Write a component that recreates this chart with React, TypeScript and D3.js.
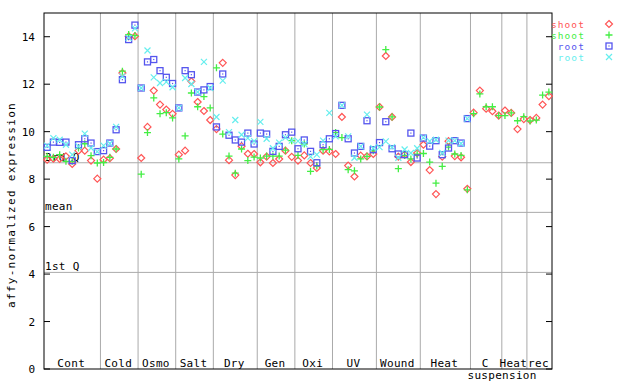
import React from "react";
import * as d3 from "d3";

const shoot1: (number | null)[] = [
  8.82, 8.86, 8.85, 8.96, 8.64, 9.2, 9.2, 8.78, 8.02,
  8.82, 8.88, 9.27, 12.47, 14.02, 14.02,
  8.89, 10.2, 11.73, 11.14, 10.93, 10.75,
  9.03, 9.2, 12.12, 11.25, 10.87, 10.49,
  10.11, 12.9, 8.8, 8.17, 9.39, 9.07, 9.06,
  8.71, 8.95, 8.68, 8.85, 9.2, 8.94,
  8.78, 9.0, 8.68, 8.47, 9.2, 9.17,
  9.06, 10.62, 8.57, 8.11, 8.99, 8.96, 9.06,
  11.04, 13.19, 10.62, 8.95, 9.03, 8.72, 9.1,
  9.45, 8.38, 7.37, 8.95, 9.6, 8.97, 8.92, 7.59,
  10.8, 11.73, 10.97, 10.86, 10.68,
  10.89, 10.79, 10.11, 10.53,
  10.49, 10.58, 11.14, 11.5,
];
const shoot2: (number | null)[] = [
  8.96, 8.92, 9.03, 8.75, 8.75, 9.31, 9.49, 8.99, 8.68,
  8.7, 8.92, 9.27, 12.55, 14.09, 14.05,
  8.21, 9.96, 11.42, 10.76, 10.8, 10.58,
  8.85, 9.82, 11.63, 11.05, 11.48, 11.0,
  12.69, 9.9, 8.97, 8.25, 9.27, 8.78, 8.93,
  8.89, 8.97, 8.97, 8.97, 9.22, 9.62,
  9.0, 9.48, 8.33, 8.55, 9.24, 9.25,
  9.96, 9.75, 8.4, 8.35, 8.85, 8.96, 9.2,
  11.04, 13.46, 10.62, 8.44, 9.0, 8.85, 9.05,
  9.08, 8.72, 7.83, 8.54, 9.35, 9.06, 9.0, 7.55,
  10.76, 11.59, 11.05, 11.05, 10.68,
  10.68, 10.79, 10.46, 10.63,
  10.45, 10.49, 11.54, 11.67,
];
const root1: (number | null)[] = [
  9.34, 9.56, 9.55, 9.56, 8.78, 9.45, 9.7, 9.52, 9.16,
  9.2, 9.52, 10.08, 12.19, 13.88, 14.49,
  11.84, 12.94, 13.04, 12.57, 12.29, 12.03,
  11.0, 12.57, 12.4, 11.67, 11.76, 11.9,
  10.2, 12.43, 9.85, 9.65, 9.56, 9.94, 9.48,
  9.94, 9.9, 9.17, 9.38, 9.87, 9.98,
  9.28, 9.65, 9.17, 8.69, 9.45, 9.7,
  9.92, 11.11, 9.7, 9.1, 9.38, 10.46, 9.24,
  9.54, 10.42, 9.28, 9.06, 9.03, 9.94, 8.89,
  9.73, 9.39, 9.62, 9.03, 9.31, 9.62, 9.52, 10.55,
  null, null, null, null, null,
  null, null, null, null,
  null, null, null, null,
];
const root2: (number | null)[] = [
  9.41, 9.73, 9.66, 9.45, 9.03, 9.38, 9.92, 9.31, 9.16,
  9.41, 9.5, 10.2, 12.33, 13.95, 14.35,
  11.84, 13.42, 12.29, 12.05, 12.1, 11.87,
  11.0, 12.26, 12.01, 11.67, 12.94, 11.84,
  10.62, 12.15, 9.98, 10.49, 9.87, 9.73, 9.6,
  10.41, 9.7, 9.3, 9.54, 9.75, 9.62,
  9.6, 9.48, 8.95, 9.03, 9.62, 10.79,
  9.8, 11.11, 9.8, 8.9, 9.38, 10.72, 9.3,
  9.35, 9.59, 9.35, 8.9, 9.25, 9.1, 9.3,
  9.75, 9.6, 9.66, 9.1, 9.62, 9.62, 9.5, 10.55,
  null, null, null, null, null,
  null, null, null, null,
  null, null, null, null,
];

const groupLabels = ["Cont", "Cold", "Osmo", "Salt", "Dry", "Gen", "Oxi", "UV", "Wound", "Heat", "C", "Heat", "rec"];
const groupSizes = [9, 6, 6, 6, 7, 6, 6, 7, 7, 8, 5, 4, 4];
const groupSubLabels = ["", "", "", "", "", "", "", "", "", "", "suspension", "", ""];

const quartileLabels = ["3rd Q", "mean", "1st Q"];
const quartileValues = [8.69, 6.6, 4.07];

const yTicks = [0, 2, 4, 6, 8, 10, 12, 14];
const seriesNames = ["shoot", "shoot", "root", "root"];
const seriesColors = ["#ff5555", "#44ee44", "#5555ee", "#66eeee"];
const seriesShapes = ["diamond", "plus", "square", "cross"];
const seriesData = [shoot1, shoot2, root1, root2];

const W = 640;
const H = 384;
const left = 44;
const right = 552;
const top = 13;
const bottom = 369;
const FONT = "'DejaVu Sans Mono', monospace";

function Marker({ shape, color, x, y }: { shape: string; color: string; x: number; y: number }) {
  const tr = `translate(${x},${y})`;
  if (shape === "diamond") {
    return <path transform={tr} d="M0,-3.5L3.5,0L0,3.5L-3.5,0Z" fill="none" stroke={color} strokeWidth={1.2} />;
  }
  if (shape === "plus") {
    return <path transform={tr} d="M-3.5,0H3.5M0,-3.5V3.5" fill="none" stroke={color} strokeWidth={1.3} />;
  }
  if (shape === "square") {
    return (
      <g transform={tr}>
        <rect x={-3} y={-3} width={6} height={6} fill="none" stroke={color} strokeWidth={1.3} />
        <rect x={-0.6} y={-0.6} width={1.2} height={1.2} fill={color} />
      </g>
    );
  }
  return <path transform={tr} d="M-3,-3L3,3M-3,3L3,-3" fill="none" stroke={color} strokeWidth={1.2} />;
}

export default function App() {
  const n = shoot1.length;
  const x = d3.scaleBand<number>().domain(d3.range(n)).range([left, right]).padding(0);
  const y = d3.scaleLinear().domain([0, 15]).range([bottom, top]);
  const cx = (i: number) => (x(i) as number) + x.bandwidth() / 2;

  const starts: number[] = [];
  let acc = 0;
  groupSizes.forEach((s) => {
    starts.push(acc);
    acc += s;
  });

  return (
    <svg width={W} height={H} style={{ position: "absolute", left: 0, top: 0, background: "#fff" }} fontFamily={FONT}>
      <rect x={0} y={0} width={W} height={H} fill="#fff" />
      {/* group separators */}
      {starts.slice(1).map((s, i) => (
        <line key={"sep" + i} x1={x(s)} x2={x(s)} y1={top} y2={bottom} stroke="#aaaaaa" strokeWidth={1} />
      ))}
      {/* quartile lines */}
      {quartileValues.map((v, i) => (
        <g key={"q" + i}>
          <line x1={left} x2={right} y1={y(v)} y2={y(v)} stroke="#aaaaaa" strokeWidth={1} />
          <text x={left + 1} y={y(v) - 2} fontSize={11} fill="#000" letterSpacing={0.3}>
            {quartileLabels[i]}
          </text>
        </g>
      ))}
      {/* frame */}
      <rect x={left} y={top} width={right - left} height={bottom - top} fill="none" stroke="#000" strokeWidth={1} />
      {/* ticks */}
      {yTicks.map((t) => (
        <g key={"t" + t}>
          <line x1={left} x2={left + 6} y1={y(t)} y2={y(t)} stroke="#000" />
          <line x1={right - 6} x2={right} y1={y(t)} y2={y(t)} stroke="#000" />
          <text x={left - 9} y={y(t) + 4} fontSize={11} textAnchor="end" fill="#000">
            {t}
          </text>
        </g>
      ))}
      {/* y label */}
      <text
        transform={`translate(15,${(top + bottom) / 2 + 14}) rotate(-90)`}
        fontSize={11}
        textAnchor="middle"
        letterSpacing={1.3}
        fill="#000"
      >
        affy-normalized expression
      </text>
      {/* group labels */}
      {groupLabels.map((g, i) => {
        const x0 = x(starts[i]) as number;
        const x1 = i + 1 < starts.length ? (x(starts[i + 1]) as number) : right;
        return (
          <g key={"g" + i}>
            <text x={(x0 + x1) / 2 - 1} y={367} fontSize={11} textAnchor="middle" letterSpacing={0.3} fill="#000">
              {g}
            </text>
            {groupSubLabels[i] && (
              <text x={x0 - 3} y={379} fontSize={11} letterSpacing={0.3} fill="#000">
                {groupSubLabels[i]}
              </text>
            )}
          </g>
        );
      })}
      {/* points */}
      {seriesData.map((arr, si) => (
        <g key={"s" + si}>
          {arr.map((v, i) =>
            v == null ? null : (
              <Marker key={i} shape={seriesShapes[si]} color={seriesColors[si]} x={cx(i)} y={y(v)} />
            )
          )}
        </g>
      ))}
      {/* legend */}
      {seriesNames.map((s, i) => (
        <g key={"l" + i}>
          <text x={585} y={27.5 + i * 11} fontSize={9.5} textAnchor="end" letterSpacing={1.1} fill={seriesColors[i]}>
            {s}
          </text>
          <Marker shape={seriesShapes[i]} color={seriesColors[i]} x={609} y={24 + i * 11} />
        </g>
      ))}
    </svg>
  );
}
